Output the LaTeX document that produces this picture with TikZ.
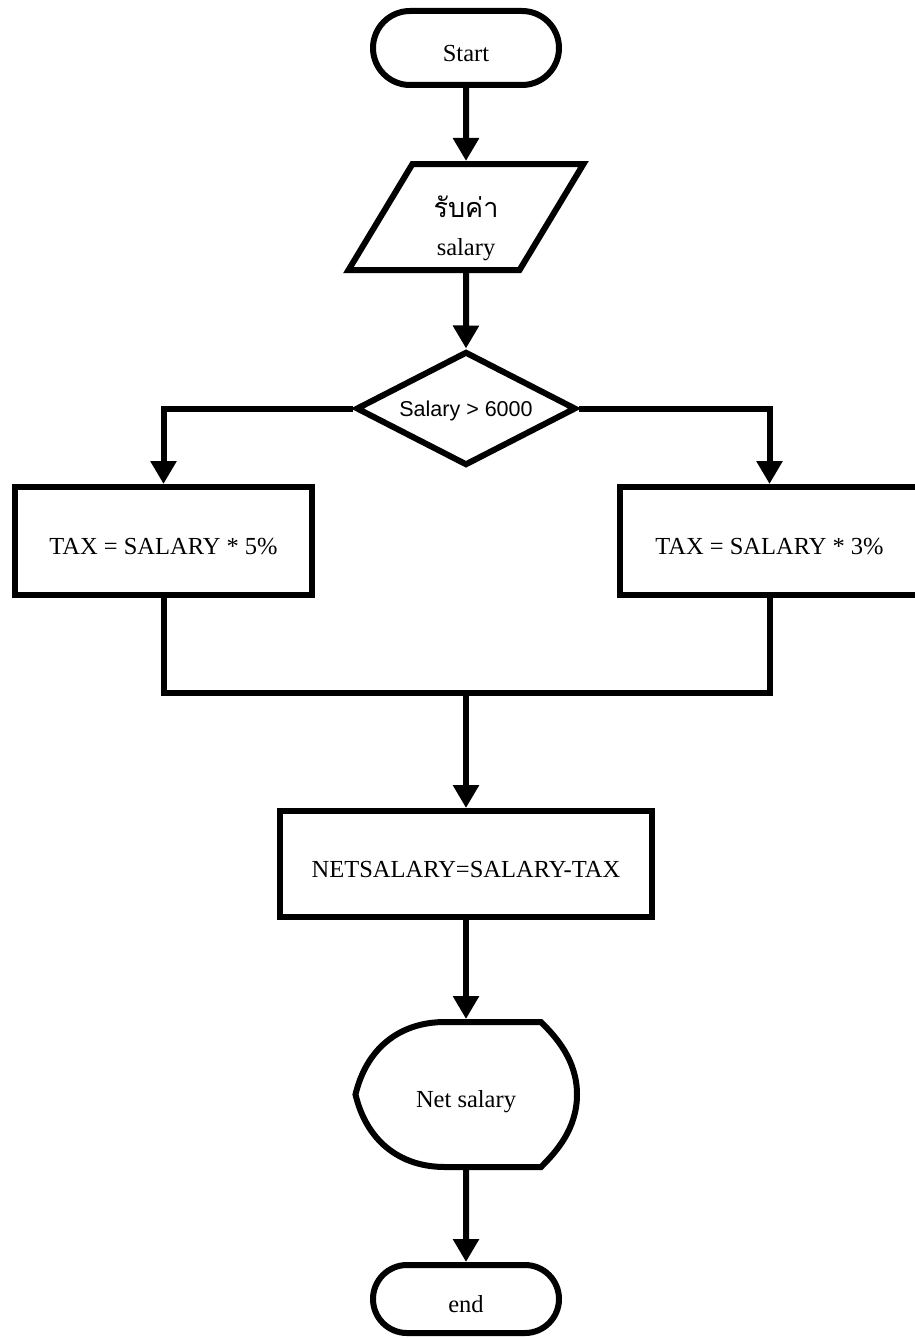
\documentclass[tikz,border=0pt]{standalone}
\usepackage{fontspec}
\setmainfont{Liberation Serif}
\newfontfamily\arialfont{Liberation Sans}
\newfontfamily\thaifont[Script=Thai]{Loma}
\usetikzlibrary{shapes.geometric,shapes.misc,arrows.meta}

\begin{document}
\begin{tikzpicture}[x=0.5pt,y=-0.5pt,
  every node/.style={font=\fontsize{12.25}{14.7}\selectfont},
  base/.style={draw, line width=3pt, inner sep=0pt},
  lowtext/.style={text height=13.1pt, text depth=0pt},
  terminal/.style={base, rounded rectangle, minimum width=93pt, lowtext},
  process/.style={base, rectangle, lowtext},
  io/.style={base, trapezium, trapezium left angle=63, trapezium right angle=117,
    trapezium stretches=true, minimum width=118pt, minimum height=53pt, align=center,
    text height=38pt, text depth=0pt},
  decision/.style={base, diamond, aspect=2, minimum width=110pt, minimum height=57pt,
    font=\arialfont\fontsize{10.75}{13}\selectfont, text height=7.7pt, text depth=0pt},
  flow/.style={line width=3pt, -{Triangle[length=11.5pt,width=12.5pt]}},
  link/.style={line width=3pt},
]
\useasboundingbox (0,0) rectangle (915,1338);
\clip (0,0) rectangle (915,1338);

% flowchart symbols
\node[terminal, minimum height=37pt] (start) at (466,48) {Start};
\node[io] (input) at (466,217) {{\thaifont\fontsize{13.5}{16}\selectfont รับค่า}\\[4pt]salary};
\node[decision] (cond) at (466,408.5) {Salary > 6000};
\node[process, minimum width=148.5pt, minimum height=54pt] (low) at (163.5,541) {TAX = SALARY * 5\%};
\node[process, minimum width=149.5pt, minimum height=54pt] (high) at (769.5,541) {TAX = SALARY * 3\%};
\coordinate (merge) at (466,693);
\node[process, minimum width=186pt, minimum height=53pt] (net) at (466,864) {NETSALARY=SALARY-TAX};
\node[base, draw=none, lowtext, minimum width=110.5pt, minimum height=72.5pt] (show) at (466,1094.5) {Net salary};
\node[terminal, minimum height=34pt] (stop) at (466,1299) {end};

% display symbol outline around the output node
\draw[link] (445,1022) -- (541,1022)
  .. controls (556,1037) and (577,1060) .. (577,1094.5)
  .. controls (577,1129) and (556,1152) .. (541,1167)
  -- (445,1167)
  .. controls (398,1167) and (366,1139) .. (355.5,1094.5)
  .. controls (366,1050) and (398,1022) .. (445,1022) -- cycle;

% connectors
\draw[flow] (start) -- (input);
\draw[flow] (input) -- (cond);
\draw[flow] (cond.west) -| (low.north);
\draw[flow] (cond.east) -| (high.north);
\draw[link] (low.south) |- (merge) -| (high.south);
\draw[flow] (merge) -- (net.north);
\draw[flow] (net) -- (show);
\draw[flow] (show) -- (stop);
\end{tikzpicture}
\end{document}
